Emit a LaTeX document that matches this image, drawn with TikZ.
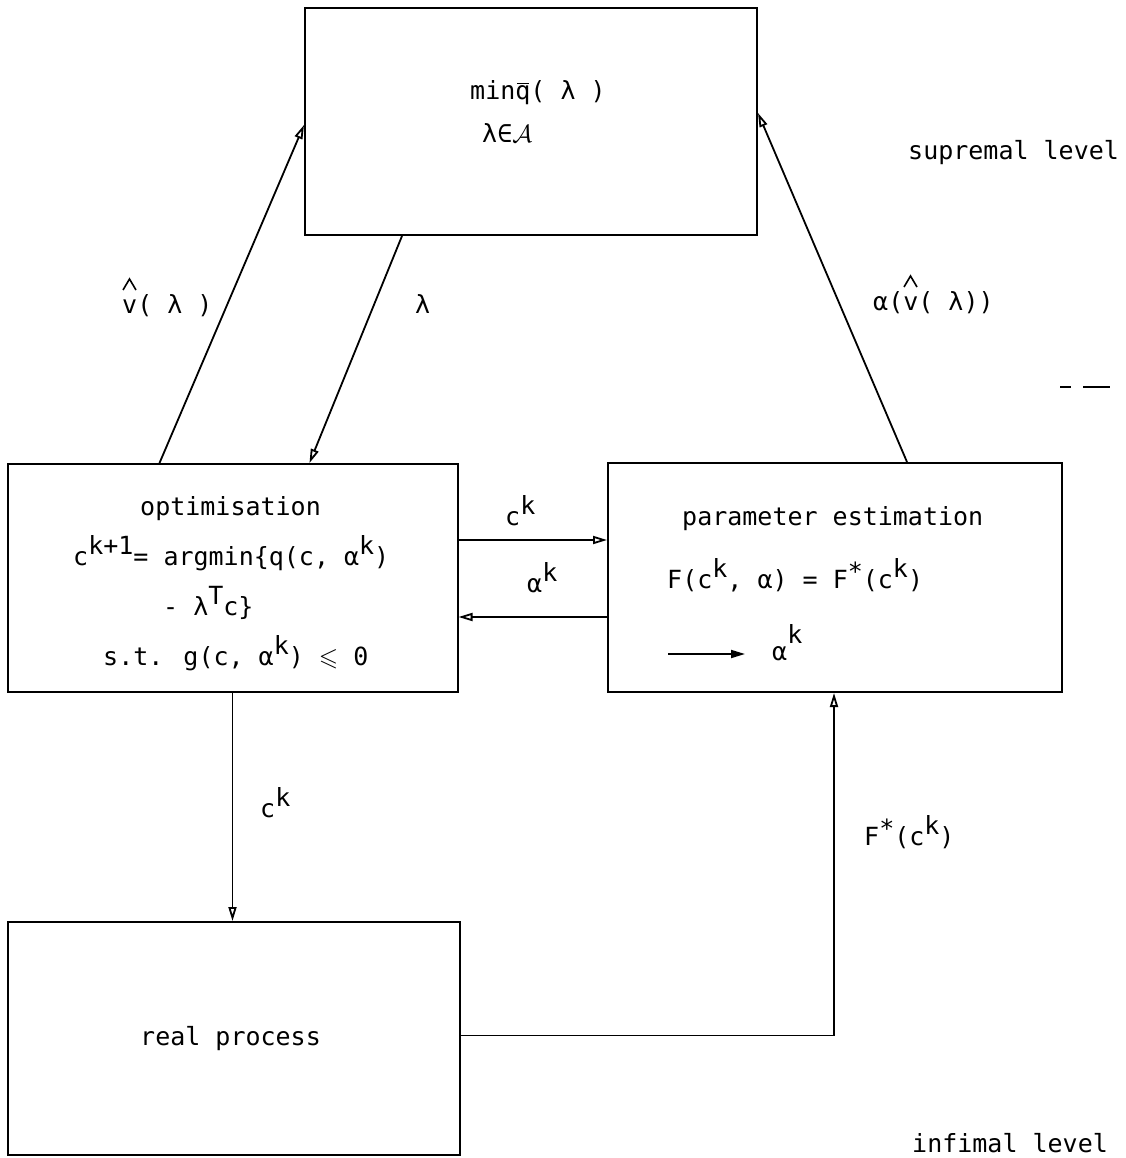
\documentclass[tikz,border=0pt]{standalone}
\usepackage{amssymb}
\usepackage{fontspec}
\setmainfont{DejaVu Sans Mono}
\usetikzlibrary{arrows.meta}
\newcommand\up[1]{\raisebox{0.42em}{#1}}
\newcommand\barq{\ooalign{q\cr\hidewidth\raisebox{0.62em}{\rule{0.45em}{1.6pt}}\hidewidth\cr}}
\tikzset{
  box/.style={draw, line width=2pt, inner sep=0pt},
  lbl/.style={anchor=base west, inner sep=0pt, font=\fontsize{25}{30}\selectfont},
  hatline/.style={line width=1.6pt, line join=miter},
  arr/.style={line width=1.8pt, -{Triangle[open,length=14pt,width=8pt]}},
  arrf/.style={line width=1.8pt, -{Triangle[length=14pt,width=8pt]}},
}
\begin{document}
\begin{tikzpicture}[x=1pt,y=-1pt]
\useasboundingbox[fill=white] (0,0) rectangle (1125,1158);
% boxes
\node[box, minimum width=452pt, minimum height=227pt] (top) at (531,121.5) {};
\node[box, minimum width=450pt, minimum height=228pt] (opt) at (232.5,578) {};
\node[box, minimum width=454pt, minimum height=229pt] (par) at (835,577.5) {};
\node[box, minimum width=452pt, minimum height=233pt] (real) at (234,1038.5) {};
% box texts
\node[lbl] (t1) at (470,100) {min\barq( λ )};
\node[lbl] (t2) at (482,143) {λ∈$\mathcal{A}$};
\node[lbl] (o1) at (140,515) {optimisation};
\node[lbl] (o2) at (73,565) {c\up{k+1}= argmin\{q(c, α\up{k})};
\node[lbl] (o3) at (163,615) {- λ\up{T}c\}};
\node[lbl] (o4) at (103,665) {s.t. g(c, α\up{k}) $\leqslant$ 0};
\node[lbl] (p1) at (682,525) {parameter estimation};
\node[lbl] (p2) at (667,588) {F(c\up{k}, α) = F\raisebox{0.3em}{*}(c\up{k})};
\node[lbl] (p3) at (772,660) {α\raisebox{0.65em}{k}};
\node[lbl] (r1) at (140,1045) {real process};
% connector labels
\node[lbl] (l1) at (122,313) {v( λ )};
\draw[hatline] (l1.base west) ++(1,-23) -- ++(6.5,-11) -- ++(6.5,11);
\node[lbl] (l2) at (415,313) {λ};
\node[lbl] (l3) at (873,310) {α(v( λ))};
\draw[hatline] (l3.base west) ++(31,-23) -- ++(6.5,-11) -- ++(6.5,11);
\node[lbl] (l4) at (505,525) {c\up{k}};
\node[lbl] (l5) at (527,592) {α\up{k}};
\node[lbl] (l6) at (260,817) {c\up{k}};
\node[lbl] (l7) at (864,845) {F\raisebox{0.3em}{*}(c\up{k})};
\node[lbl] (s1) at (908,160) {supremal level};
\node[lbl] (s2) at (912,1152) {infimal level};
% connectors
\draw[arr] ([xshift=153pt]opt.north west) -- ([yshift=-3.5pt]top.west);
\draw[arr] ([xshift=98pt]top.south west) -- ([xshift=303pt]opt.north west);
\draw[arr] ([xshift=300pt]par.north west) -- ([yshift=8.5pt]top.east);
\draw[arr] ([yshift=38pt]opt.east) -- ([yshift=38pt]opt.east -| par.west);
\draw[arr] ([yshift=-39pt]opt.east -| par.west) -- ([yshift=-39pt]opt.east);
\draw[arr] (opt.south) -- (opt.south |- real.north);
\draw[arr] ([yshift=3pt]real.east) -| ([xshift=-1pt]par.south);
\coordinate (pa) at (668,654);
\coordinate (pb) at (745,654);
\draw[arrf] (pa) -- (pb);
% dashes at right
\draw[line width=2pt] (1060,387) -- (1071,387);
\draw[line width=2pt] (1083,387) -- (1110,387);
\end{tikzpicture}
\end{document}
